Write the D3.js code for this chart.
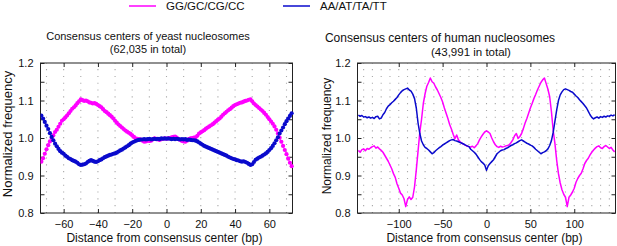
<!DOCTYPE html>
<html><head><meta charset="utf-8">
<script src="https://cdn.jsdelivr.net/npm/d3@7"></script>
<style>
html,body{margin:0;padding:0;background:#fff;}
svg{display:block;font-family:"Liberation Sans",Arial,sans-serif;}
</style></head>
<body><svg id="c" width="617" height="246"></svg>
<script>
// ---- data ----
const seriesNames = ["GG/GC/CG/CC", "AA/AT/TA/TT"];
const seriesColors = ["#ff00ff", "#0a0acc"];

const yeastTitle = ["Consensus centers of yeast nucleosomes", "(62,035 in total)"];
const humanTitle = ["Consensus centers of human nucleosomes", "(43,991 in total)"];
const xLabel = "Distance from consensus center (bp)";
const yLabel = "Normalized frequency";

const yeastTicksX = [-60, -40, -20, 0, 20, 40, 60];
const humanTicksX = [-100, -50, 0, 50, 100];
const ticksY = [0.8, 0.9, 1.0, 1.1, 1.2];

// yeast: positions -73..73 (1 bp)
const yeastPos = d3.range(-73, 74);
const yeastGC = [
0.937,0.946,0.958,0.970,0.981,0.991,1.000,1.007,1.016,1.022,1.030,1.038,1.046,1.050,1.055,1.060,1.066,1.072,1.078,1.082,1.087,1.093,1.098,1.103,
1.101,1.099,1.100,1.098,1.095,1.094,1.092,1.093,1.091,1.088,1.085,1.082,1.077,1.072,1.069,1.065,1.061,1.057,1.052,1.046,1.041,1.036,1.032,1.028,
1.024,1.020,1.017,1.014,1.011,1.007,1.003,0.999,0.998,0.997,0.996,0.993,0.990,0.991,0.993,0.992,0.993,0.996,0.999,0.998,0.996,0.995,0.997,0.998,
0.999,0.998,0.999,1.000,1.002,1.003,1.004,1.001,0.997,0.995,0.992,0.991,0.990,0.993,0.997,0.999,1.000,1.001,1.002,1.006,1.012,1.015,1.018,1.021,
1.025,1.028,1.031,1.034,1.037,1.041,1.045,1.049,1.052,1.057,1.062,1.066,1.070,1.074,1.077,1.081,1.085,1.088,1.090,1.092,1.094,1.095,1.097,1.099,
1.100,1.102,1.103,1.098,1.092,1.088,1.084,1.080,1.076,1.072,1.067,1.062,1.056,1.050,1.044,1.038,1.031,1.022,1.012,1.001,0.990,0.979,0.968,0.957,
0.945,0.934,0.925];
const yeastAT = [
1.060,1.052,1.043,1.033,1.024,1.013,1.003,0.994,0.985,0.978,0.971,0.965,0.961,0.958,0.953,0.950,0.946,0.944,0.941,0.939,0.937,0.934,0.930,0.928,
0.929,0.930,0.932,0.936,0.939,0.941,0.939,0.937,0.936,0.938,0.941,0.943,0.946,0.949,0.951,0.953,0.955,0.956,0.958,0.959,0.961,0.964,0.967,0.969,
0.972,0.975,0.978,0.981,0.985,0.988,0.990,0.992,0.994,0.995,0.996,0.996,0.997,0.996,0.997,0.998,0.996,0.997,0.998,0.997,0.998,0.997,0.999,0.998,
0.999,0.998,0.999,0.998,0.997,0.998,0.997,0.998,0.997,0.996,0.997,0.996,0.997,0.995,0.996,0.995,0.994,0.994,0.993,0.991,0.988,0.985,0.982,0.979,
0.977,0.975,0.973,0.971,0.969,0.967,0.965,0.963,0.961,0.959,0.957,0.955,0.953,0.950,0.948,0.946,0.944,0.943,0.941,0.940,0.938,0.937,0.938,0.936,
0.934,0.931,0.928,0.930,0.936,0.942,0.945,0.948,0.950,0.953,0.956,0.959,0.963,0.968,0.973,0.979,0.986,0.994,1.002,1.012,1.020,1.028,1.037,1.045,
1.052,1.059,1.066];

// human: positions -146..146 (2 bp steps)
const humanPos = d3.range(-146, 147, 2);
const humanGC = [
0.967,0.962,0.969,0.971,0.966,0.972,0.970,0.974,0.977,0.979,0.973,0.976,0.971,0.967,0.962,0.954,0.946,0.938,0.928,0.918,0.905,0.895,0.878,0.866,
0.853,0.848,0.838,0.817,0.836,0.843,0.836,0.842,0.870,0.915,0.965,1.015,1.050,1.092,1.118,1.138,1.148,1.160,1.150,1.146,1.136,1.128,1.118,1.108,
1.096,1.080,1.066,1.052,1.036,1.024,1.010,0.998,1.008,0.995,0.990,0.986,0.983,0.981,0.978,0.977,0.976,0.978,0.974,0.979,0.985,0.995,1.003,1.010,
1.016,1.019,1.016,1.012,1.000,0.990,0.982,0.977,0.975,0.978,0.976,0.977,0.979,0.980,0.982,0.988,0.995,1.006,1.012,0.999,1.004,1.012,1.025,1.040,
1.052,1.066,1.080,1.092,1.105,1.116,1.128,1.138,1.148,1.155,1.160,1.145,1.130,1.110,1.070,1.020,0.985,0.940,0.905,0.880,0.862,0.850,0.842,0.817,
0.842,0.848,0.856,0.866,0.882,0.892,0.900,0.906,0.918,0.932,0.940,0.946,0.955,0.962,0.968,0.973,0.977,0.979,0.974,0.972,0.977,0.980,0.976,0.972,
0.975,0.968,0.963];
const humanAT = [
1.061,1.058,1.060,1.056,1.057,1.054,1.056,1.053,1.055,1.052,1.057,1.058,1.051,1.053,1.062,1.068,1.078,1.085,1.089,1.094,1.098,1.103,1.108,1.115,
1.121,1.126,1.129,1.131,1.133,1.128,1.125,1.117,1.105,1.080,1.040,1.012,0.992,0.982,0.975,0.972,0.968,0.963,0.958,0.961,0.966,0.970,0.974,0.977,
0.981,0.984,0.987,0.990,0.993,0.995,0.996,0.993,0.992,0.990,0.988,0.986,0.984,0.981,0.979,0.977,0.970,0.966,0.962,0.957,0.950,0.943,0.937,0.933,
0.928,0.914,0.926,0.932,0.937,0.942,0.950,0.958,0.962,0.966,0.968,0.969,0.972,0.974,0.977,0.980,0.982,0.985,0.987,0.990,0.993,0.995,0.992,0.989,
0.986,0.984,0.981,0.979,0.975,0.970,0.966,0.962,0.958,0.961,0.963,0.966,0.971,0.980,0.993,1.015,1.045,1.075,1.100,1.115,1.123,1.129,1.131,1.129,
1.127,1.124,1.122,1.117,1.112,1.108,1.102,1.097,1.092,1.086,1.080,1.071,1.062,1.055,1.051,1.054,1.056,1.053,1.057,1.055,1.058,1.056,1.059,1.058,
1.061,1.059,1.062];

// ---- drawing ----
const svg = d3.select("#c");
const plotTop = 63, plotBottom = 213;
const y = d3.scaleLinear().domain([0.8, 1.2]).range([plotBottom, plotTop]);

function panel(cfg) {
  const x = d3.scaleLinear().domain(cfg.domain).range(cfg.range);
  const g = svg.append("g");
  const [x0, x1] = cfg.range;
  const gridX = d3.range(Math.ceil(cfg.domain[0] / 10) * 10, cfg.domain[1] + 0.001, 10);
  g.append("g").selectAll("line").data(gridX).join("line")
    .attr("x1", d => x(d)).attr("x2", d => x(d))
    .attr("y1", plotBottom).attr("y2", plotTop)
    .attr("stroke", "#a8a8a8").attr("stroke-width", 1.1)
    .attr("stroke-dasharray", "1.1,5.7");
  g.append("rect").attr("x", x0).attr("y", plotTop).attr("width", x1 - x0).attr("height", plotBottom - plotTop)
    .attr("fill", "none").attr("stroke", "#222").attr("stroke-width", 1);
  const yMinor = d3.range(0.8, 1.2001, 0.05);
  const axB = g.append("g").attr("transform", `translate(0,${plotBottom})`)
    .call(d3.axisBottom(x).tickValues(cfg.ticksX).tickSize(-4).tickPadding(7).tickFormat(d3.format("d")));
  const axT = g.append("g").attr("transform", `translate(0,${plotTop})`)
    .call(d3.axisTop(x).tickValues(cfg.ticksX).tickSize(-4).tickFormat(""));
  const axL = g.append("g").attr("transform", `translate(${x0},0)`)
    .call(d3.axisLeft(y).tickValues(yMinor).tickSize(-4).tickPadding(7)
      .tickFormat(d => (Math.abs(d * 10 - Math.round(d * 10)) < 1e-6) ? d3.format(".1f")(d) : ""));
  const axR = g.append("g").attr("transform", `translate(${x1},0)`)
    .call(d3.axisRight(y).tickValues(yMinor).tickSize(-4).tickFormat(""));
  [axB, axT, axL, axR].forEach(a => {
    a.select(".domain").remove();
    a.selectAll(".tick line").attr("stroke", "#222");
    a.selectAll("text").attr("font-size", 11).attr("fill", "#111")
      .attr("font-family", "Liberation Sans, Arial, sans-serif");
  });
  const clipId = "clip" + cfg.id;
  svg.append("clipPath").attr("id", clipId).append("rect")
    .attr("x", x0).attr("y", plotTop - 3).attr("width", x1 - x0 + 3).attr("height", plotBottom - plotTop + 6);
  const pg = g.append("g").attr("clip-path", `url(#${clipId})`);
  cfg.series.forEach((vals, i) => {
    const pts = cfg.pos.map((p, k) => [p, vals[k]]);
    pg.append("path").datum(pts)
      .attr("fill", "none").attr("stroke", seriesColors[i]).attr("stroke-width", cfg.lw)
      .attr("stroke-linejoin", "round")
      .attr("d", d3.line().x(d => x(d[0])).y(d => y(d[1])));
    if (cfg.markers) {
      pg.append("g").selectAll("circle").data(pts).join("circle")
        .attr("cx", d => x(d[0])).attr("cy", d => y(d[1])).attr("r", 2.1)
        .attr("fill", seriesColors[i]);
    }
  });
  g.append("text").attr("x", cfg.titleX[0]).attr("y", cfg.titleY[0]).attr("text-anchor", "middle")
    .attr("font-size", cfg.titleSize[0]).attr("fill", "#111").text(cfg.title[0]);
  g.append("text").attr("x", cfg.titleX[1]).attr("y", cfg.titleY[1]).attr("text-anchor", "middle")
    .attr("font-size", cfg.titleSize[1]).attr("fill", "#111").text(cfg.title[1]);
  g.append("text").attr("x", (x0 + x1) / 2 - 2).attr("y", 242).attr("text-anchor", "middle")
    .attr("font-size", 12).attr("fill", "#111").text(xLabel);
  g.append("text").attr("transform", `translate(${cfg.yLabelX},${cfg.yLabelY}) rotate(-90)`)
    .attr("text-anchor", "middle").attr("font-size", cfg.yLabelSize).attr("fill", "#111").text(yLabel);
}

panel({id: "a", domain: [-73.5, 73.5], range: [40.5, 292.5], ticksX: yeastTicksX,
  pos: yeastPos, series: [yeastGC, yeastAT], markers: true, lw: 0.8,
  title: yeastTitle, titleX: [148, 148], titleY: [40, 53], titleSize: [11, 11],
  yLabelX: 12, yLabelY: 134, yLabelSize: 13});
panel({id: "b", domain: [-147, 147], range: [357.5, 615.5], ticksX: humanTicksX,
  pos: humanPos, series: [humanGC, humanAT], markers: false, lw: 1.5,
  title: humanTitle, titleX: [440, 471], titleY: [42, 56], titleSize: [12, 11.5],
  yLabelX: 331, yLabelY: 136, yLabelSize: 12});

const legendX = [129, 283];
seriesNames.forEach((name, i) => {
  svg.append("line").attr("x1", legendX[i]).attr("x2", legendX[i] + 27)
    .attr("y1", 6).attr("y2", 6).attr("stroke", seriesColors[i]).attr("stroke-width", 1.5);
  svg.append("text").attr("x", legendX[i] + 37).attr("y", 10).attr("font-size", 11.5)
    .attr("fill", "#111").text(name);
});
</script></body></html>
